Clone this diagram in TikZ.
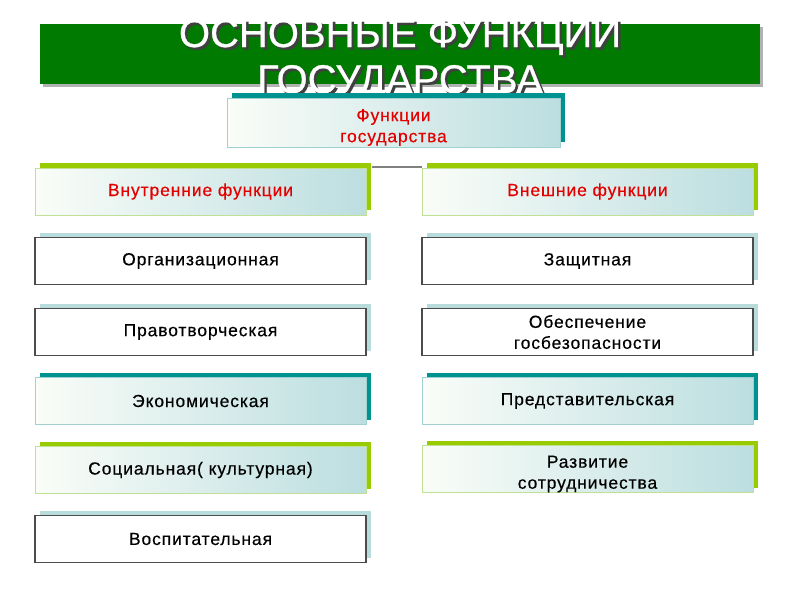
\documentclass[tikz,border=0pt]{standalone}
\usepackage{fontspec}
\setmainfont{Liberation Sans}
\newfontfamily\boxfont[LetterSpace=5,FakeBold=0.4]{Liberation Sans}
\newfontfamily\titlefont[FakeBold=0.6]{Liberation Sans}
\usetikzlibrary{shadows}
\definecolor{bannergreen}{RGB}{0,122,0}
\definecolor{darkteal}{RGB}{0,145,145}
\definecolor{lightteal}{RGB}{184,220,220}
\definecolor{gradright}{RGB}{188,222,224}
\definecolor{gradleft}{RGB}{250,253,248}
\definecolor{limegreen}{RGB}{153,204,0}
\definecolor{paleborder}{RGB}{192,224,150}
\definecolor{tealborder}{RGB}{160,208,208}
\definecolor{boxred}{RGB}{226,0,0}
\newcommand{\shadowed}[1]{\makebox[0pt][l]{\hspace{2.5pt}\raisebox{-2.5pt}{\textcolor{black!75}{#1}}}\textcolor{white}{#1}}
\newcommand{\lowered}[1]{\raisebox{-5pt}[\height][\depth]{\begin{tabular}{@{}c@{}}#1\end{tabular}}}
\tikzset{
  base box/.style={rectangle, minimum width=331pt, minimum height=47pt, inner sep=0pt,
    align=center, font=\boxfont\fontsize{17.5}{21}\selectfont, text=black},
  plainbox/.style={base box, draw=black!70, line width=1.1pt, fill=white,
    general shadow={shadow xshift=5pt, shadow yshift=5pt, fill=lightteal}},
  tealbox/.style={base box, draw=tealborder, line width=1pt, left color=gradleft, right color=gradright,
    general shadow={shadow xshift=5pt, shadow yshift=5pt, fill=darkteal}},
  greenbox/.style={base box, draw=paleborder, line width=1pt, left color=gradleft, right color=gradright,
    general shadow={shadow xshift=5pt, shadow yshift=5pt, fill=limegreen}},
  headbox/.style={greenbox, text=boxred},
  titletext/.style={font=\titlefont\fontsize{40}{46}\selectfont, anchor=base},
  connector/.style={draw=black!50, line width=2pt},
}
\begin{document}
\begin{tikzpicture}[x=1pt, y=-1pt]
\useasboundingbox (0,0) rectangle (800,600);
% banner
\node[rectangle, fill=bannergreen, minimum width=720pt, minimum height=60pt, inner sep=0pt,
  general shadow={shadow xshift=3pt, shadow yshift=-3pt, fill=black, opacity=0.3}] (banner) at (400,54) {};
\node[titletext] (t1) at (400,47) {\shadowed{ОСНОВНЫЕ ФУНКЦИИ}};
\node[titletext] (t2) at (400,93) {\shadowed{ГОСУДАРСТВА}};
% top box
\node[tealbox, minimum width=333pt, minimum height=49pt, text=boxred] (top) at (393.5,122.5) {\lowered{Функции\\государства}};
% headers
\node[headbox] (hl) at (200.5,191.5) {Внутренние функции};
\node[headbox] (hr) at (587.5,191.5) {Внешние функции};
\draw[connector] ([xshift=5pt,yshift=1pt]hl.north east) -- ([yshift=1pt]hr.north west);
% left column
\node[plainbox] (l1) at (200.5,261) {Организационная};
\node[plainbox] (l2) at (200.5,332) {Правотворческая};
\node[tealbox] (l3) at (200.5,401) {Экономическая};
\node[greenbox] (l4) at (200.5,470) {Социальная( культурная)};
\node[plainbox] (l5) at (200.5,539) {Воспитательная};
% right column
\node[plainbox] (r1) at (587.5,261) {Защитная};
\node[plainbox] (r2) at (587.5,332) {Обеспечение\\госбезопасности};
\node[tealbox] (r3) at (587.5,401) {Представительская};
\node[greenbox] (r4) at (587.5,469) {\lowered{Развитие\\сотрудничества}};
\end{tikzpicture}
\end{document}
